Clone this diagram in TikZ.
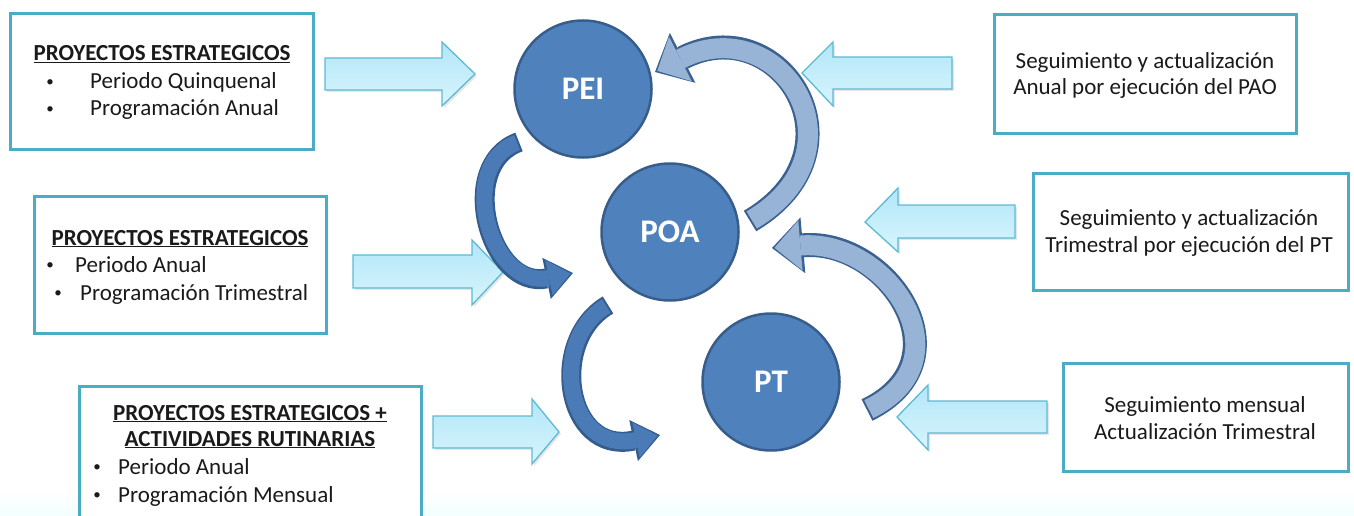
\documentclass[tikz,border=0pt]{standalone}
\usepackage{fontspec}
\setmainfont{Carlito}
\usetikzlibrary{arrows.meta,shadows}

\definecolor{circfill}{HTML}{4F81BD}
\definecolor{circedge}{HTML}{385D8A}
\definecolor{darkfill}{HTML}{4A7BB7}
\definecolor{darkedge}{HTML}{345C8C}
\definecolor{lightfill}{HTML}{97B3D6}
\definecolor{lightedge}{HTML}{3A6190}
\definecolor{boxedge}{HTML}{4BACC6}
\definecolor{barrowedge}{HTML}{5DBAD3}
\definecolor{barrowtop}{HTML}{B2E6F8}
\definecolor{barrowbot}{HTML}{D8F5FD}
\definecolor{txtcol}{HTML}{1A1A1A}

\newcommand{\bul}{\raisebox{2.5pt}{\fontsize{15}{15}\selectfont •}}

\begin{document}
\begin{tikzpicture}[x=1pt, y=-1pt,
    txt/.style={font=\fontsize{23}{27}\selectfont, inner sep=0pt, text=txtcol},
    ttl/.style={txt, font=\fontsize{23}{27}\selectfont\bfseries, anchor=base},
    infobox/.style={draw=boxedge, line width=3pt, fill=white},
    plan/.style={circle, minimum size=137pt, fill=circfill, draw=circedge,
      line width=2.5pt, text=white, font=\fontsize{33}{36}\selectfont\bfseries},
    blockarrow/.style={draw=barrowedge, line width=1.3pt, top color=barrowtop,
      bottom color=barrowbot, drop shadow={opacity=0.2, shadow xshift=2pt, shadow yshift=-2pt}},
    darkrim/.style={line width=20pt, draw=darkedge,
      -{Triangle[width=42pt, length=27pt, line width=0pt]}},
    darkcore/.style={line width=16pt, draw=darkfill, shorten <=2pt, shorten >=2.5pt,
      -{Triangle[width=36pt, length=22pt, line width=0pt]}},
    lightrim/.style={line width=24pt, draw=lightedge,
      -{Triangle[width=56pt, length=31pt, line width=0pt]}},
    lightcore/.style={line width=20pt, draw=lightfill, shorten <=2pt, shorten >=2.5pt,
      -{Triangle[width=50pt, length=26pt, line width=0pt]}}]
  \useasboundingbox (0,0) rectangle (1354,516);
  \clip (0,0) rectangle (1354,516);
  \fill[top color=white, bottom color=cyan!5] (0,492) rectangle (1354,516); % bottom band

  % left boxes
  \node[infobox, minimum width=303pt, minimum height=136pt] (boxa) at (162,81.5) {};
  \node[ttl] (tita) at (162,61) {\underline{PROYECTOS ESTRATEGICOS}};
  \node[txt, anchor=base] (ba1) at (50,89) {\bul};
  \node[txt, anchor=base west] (la1) at (90,89) {Periodo Quinquenal};
  \node[txt, anchor=base] (ba2) at (50,116) {\bul};
  \node[txt, anchor=base west] (la2) at (90,116) {Programación Anual};

  \node[infobox, minimum width=292pt, minimum height=137pt] (boxb) at (180.5,265) {};
  \node[ttl] (titb) at (180,245) {\underline{PROYECTOS ESTRATEGICOS}};
  \node[txt, anchor=base] (bb1) at (50,272) {\bul};
  \node[txt, anchor=base west] (lb1) at (75,272) {Periodo Anual};
  \node[txt, anchor=base] (bb2) at (58,300) {\bul};
  \node[txt, anchor=base west] (lb2) at (80,300) {Programación Trimestral};

  \node[infobox, minimum width=342pt, minimum height=152pt] (boxc) at (250.5,462.5) {};
  \node[ttl] (titc) at (250,420) {\underline{PROYECTOS ESTRATEGICOS +}};
  \node[ttl] (titd) at (250,446) {\underline{ACTIVIDADES RUTINARIAS}};
  \node[txt, anchor=base] (bc1) at (97,474) {\bul};
  \node[txt, anchor=base west] (lc1) at (118,474) {Periodo Anual};
  \node[txt, anchor=base] (bc2) at (97,502) {\bul};
  \node[txt, anchor=base west] (lc2) at (118,502) {Programación Mensual};

  % right boxes
  \node[infobox, minimum width=302pt, minimum height=119pt] (boxd) at (1145.5,74) {};
  \node[txt, anchor=base] (ld1) at (1145,69) {Seguimiento y actualización};
  \node[txt, anchor=base] (ld2) at (1145,95) {Anual por ejecución del PAO};

  \node[infobox, minimum width=315pt, minimum height=117pt] (boxe) at (1191,232) {};
  \node[txt, anchor=base] (le1) at (1189,225) {Seguimiento y actualización};
  \node[txt, anchor=base] (le2) at (1189,252) {Trimestral por ejecución del PT};

  \node[infobox, minimum width=285pt, minimum height=108pt] (boxf) at (1206,417.5) {};
  \node[txt, anchor=base] (lf1) at (1205,412) {Seguimiento mensual};
  \node[txt, anchor=base] (lf2) at (1205,439) {Actualización Trimestral};

  % block arrows
  \draw[blockarrow] (325,58) -- (442,58) -- (442,42) -- (475,74) -- (442,106) -- (442,90) -- (325,90) -- cycle;
  \draw[blockarrow] (353,255) -- (472,255) -- (472,240) -- (503,272) -- (472,305) -- (472,288) -- (353,288) -- cycle;
  \draw[blockarrow] (433,416) -- (532,416) -- (532,399) -- (559,432) -- (532,464) -- (532,448) -- (433,448) -- cycle;
  \draw[blockarrow] (952,57) -- (833,57) -- (833,42) -- (802,73) -- (833,106) -- (833,89) -- (952,89) -- cycle;
  \draw[blockarrow] (1015,205) -- (898,205) -- (898,188) -- (865,222) -- (898,252) -- (898,238) -- (1015,238) -- cycle;
  \draw[blockarrow] (1047,401) -- (928,401) -- (928,385) -- (897,417) -- (928,450) -- (928,433) -- (1047,433) -- cycle;

  % plans
  \node[plan] (pei) at (583,89) {PEI};
  \node[plan] (poa) at (670,232) {POA};
  \node[plan] (pt) at (771,382) {PT};

  % curved arrows
  \coordinate (peiout) at (519,142);
  \coordinate (poain) at (573,273);
  \coordinate (poaout) at (608,305);
  \coordinate (ptin) at (660,435);
  \coordinate (poaback) at (750,221);
  \coordinate (peiin) at (655,72);
  \coordinate (ptback) at (867,410);
  \coordinate (poaret) at (772,248);

  \draw[darkrim] (peiout) .. controls (455,165) and (490,290) .. (poain);   % PEI -> POA
  \draw[darkcore] (peiout) .. controls (455,165) and (490,290) .. (poain);
  \draw[darkrim] (poaout) .. controls (548,340) and (565,455) .. (ptin);    % POA -> PT
  \draw[darkcore] (poaout) .. controls (548,340) and (565,455) .. (ptin);
  \draw[lightrim] (poaback) .. controls (870,150) and (780,8) .. (peiin);   % POA -> PEI
  \draw[lightcore] (poaback) .. controls (870,150) and (780,8) .. (peiin);
  \draw[lightrim] (ptback) .. controls (970,360) and (887,238) .. (poaret); % PT -> POA
  \draw[lightcore] (ptback) .. controls (970,360) and (887,238) .. (poaret);
\end{tikzpicture}
\end{document}
